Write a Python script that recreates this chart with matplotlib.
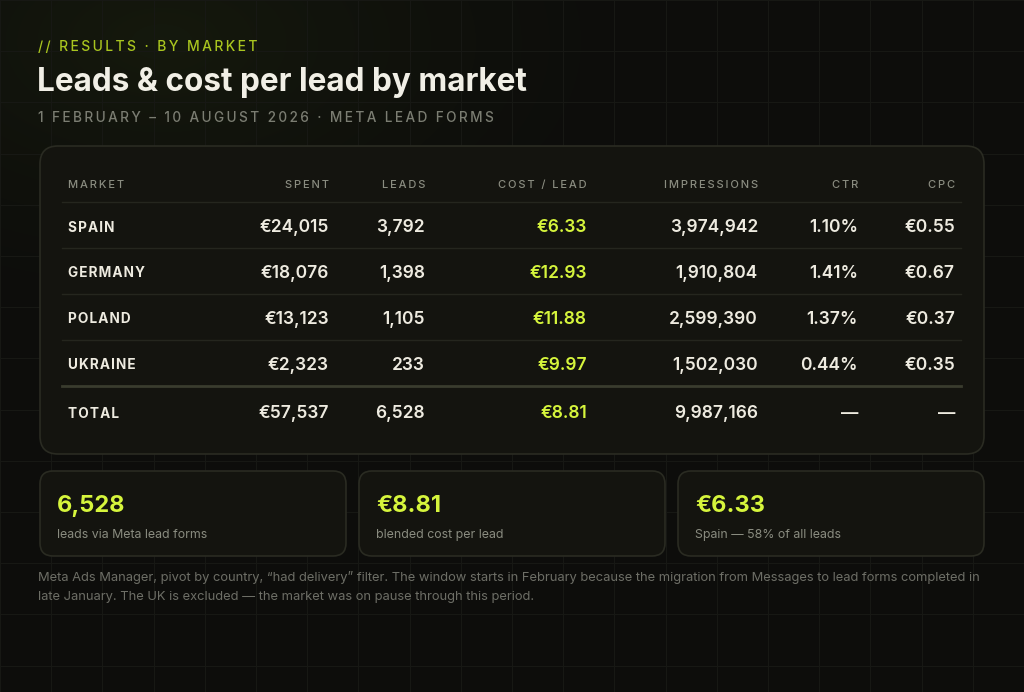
import numpy as np
import matplotlib
matplotlib.use("Agg")
import matplotlib.pyplot as plt
from matplotlib.patches import FancyBboxPatch

plt.rcParams['font.family'] = ['Inter', 'DejaVu Sans']

# data
markets = ['SPAIN', 'GERMANY', 'POLAND', 'UKRAINE']
spent = [24015, 18076, 13123, 2323]
leads = [3792, 1398, 1105, 233]
cost_per_lead = [6.33, 12.93, 11.88, 9.97]
impressions = [3974942, 1910804, 2599390, 1502030]
ctr = [1.10, 1.41, 1.37, 0.44]
cpc = [0.55, 0.67, 0.37, 0.35]
total_spent = 57537
total_leads = 6528
total_cpl = 8.81
total_impressions = 9987166
columns = ['MARKET', 'SPENT', 'LEADS', 'COST / LEAD', 'IMPRESSIONS', 'CTR', 'CPC']
card_values = ['6,528', '€8.81', '€6.33']
card_labels = ['leads via Meta lead forms', 'blended cost per lead', 'Spain — 58% of all leads']

BG = '#0d0d0b'
PANEL = '#14140f'
EDGE = '#2a2b22'
WHITE = '#eeebe0'
LIME = '#d6f53c'
GREY = '#8a8c80'


def spaced(s, sp='\u2009'):
    return sp.join(s)


fig = plt.figure(figsize=(10.24, 6.92), dpi=100)
fig.patch.set_facecolor(BG)
ax = fig.add_axes([0, 0, 1, 1])
ax.set_xlim(0, 1024)
ax.set_ylim(692, 0)
ax.axis('off')

# background glow top-left
yy, xx = np.mgrid[0:692:4, 0:1024:4]
d = np.sqrt(((xx - 160) / 520.0) ** 2 + ((yy - 40) / 300.0) ** 2)
glow = np.clip(1 - d, 0, 1) ** 1.5
img = np.zeros(xx.shape + (4,))
img[..., 0] = 0.11
img[..., 1] = 0.14
img[..., 2] = 0.06
img[..., 3] = glow * 0.55
ax.imshow(img, extent=(0, 1024, 692, 0), zorder=0, interpolation='bilinear')

# faint grid
for gx in np.arange(0, 1024, 51.2):
    ax.plot([gx, gx], [0, 692], color='#171814', lw=0.8, zorder=0.5)
for gy in np.arange(0, 692, 51.2):
    ax.plot([0, 1024], [gy, gy], color='#171814', lw=0.8, zorder=0.5)

# header texts
ax.text(38, 47, spaced('// RESULTS · BY MARKET'), color='#a9c51f', fontsize=10,
        fontweight='medium', va='center', ha='left', zorder=3)
ax.text(37, 82, 'Leads & cost per lead by market', color='#f1efe6', fontsize=22.7,
        fontweight='bold', va='center', ha='left', zorder=3)
ax.text(38, 118, spaced('1 FEBRUARY – 10 AUGUST 2026 · META LEAD FORMS'), color='#7b7d72',
        fontsize=9.8, fontweight='medium', va='center', ha='left', zorder=3)

# table panel
ax.add_patch(FancyBboxPatch((40, 146), 944, 308, boxstyle='round,pad=0,rounding_size=18',
                            facecolor=PANEL, edgecolor=EDGE, lw=1.2, zorder=1))

col_x = [68, 329, 425, 587, 758, 858, 955]
header_y = 185
for i, (c, x) in enumerate(zip(columns, col_x)):
    ax.text(x, header_y, spaced(c), color=GREY, fontsize=8, fontweight='medium',
            ha='left' if i == 0 else 'right', va='center', zorder=3)

row_y = [228, 273, 319, 365]
sep_y = [202, 248, 294, 340]
for sy in sep_y:
    ax.plot([62, 961], [sy, sy], color='#25261e', lw=1.0, zorder=2)
ax.plot([62, 961], [386, 386], color='#3a3c2e', lw=2.0, zorder=2)


def row(y, name, vals):
    ax.text(col_x[0], y, spaced(name, '\u200a'), color=WHITE, fontsize=9.8,
            fontweight='bold', ha='left', va='center', zorder=3)
    for j, v in enumerate(vals):
        ax.text(col_x[j + 1], y, v, color=LIME if j == 2 else WHITE, fontsize=12.5,
                fontweight='semibold', ha='right', va='center', zorder=3)


for k in range(len(markets)):
    row(row_y[k], markets[k],
        [f'€{spent[k]:,}', f'{leads[k]:,}', f'€{cost_per_lead[k]:.2f}',
         f'{impressions[k]:,}', f'{ctr[k]:.2f}%', f'€{cpc[k]:.2f}'])
row(414, 'TOTAL',
    [f'€{total_spent:,}', f'{total_leads:,}', f'€{total_cpl:.2f}',
     f'{total_impressions:,}', '—', '—'])

# KPI cards
card_x = [40, 359, 678]
for cx, val, lab in zip(card_x, card_values, card_labels):
    ax.add_patch(FancyBboxPatch((cx, 471), 306, 85, boxstyle='round,pad=0,rounding_size=13',
                                facecolor=PANEL, edgecolor=EDGE, lw=1.2, zorder=1))
    ax.text(cx + 17, 506, val, color=LIME, fontsize=17, fontweight='bold',
            ha='left', va='center', zorder=3)
    ax.text(cx + 17, 535, lab, color=GREY, fontsize=8.9, ha='left', va='center', zorder=3)

# footnote
note = ('Meta Ads Manager, pivot by country, “had delivery” filter. The window starts in February '
        'because the migration from Messages to lead forms completed in\n'
        'late January. The UK is excluded — the market was on pause through this period.')
ax.text(38, 571, note, color='#6d6e66', fontsize=9.3, ha='left', va='top',
        linespacing=1.8, zorder=3)

fig.savefig('out.png', dpi=100, facecolor=BG)
